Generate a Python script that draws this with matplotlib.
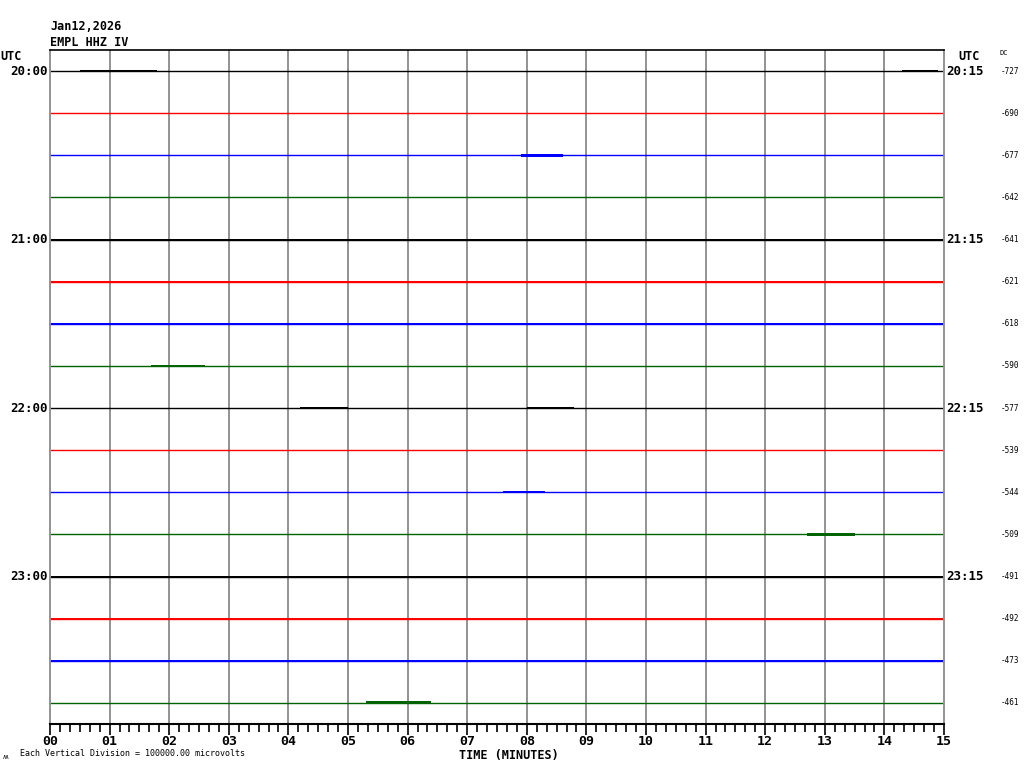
import matplotlib
matplotlib.use("Agg")
import matplotlib.pyplot as plt
import matplotlib.transforms as mtransforms
import numpy as np

# helicorder for EMPL HHZ IV, 16 lines of 15 minutes each
date_label = "Jan12,2026"
station = "EMPL HHZ IV"
row_colors = ["black", "red", "blue", "#006400"] * 4
left_hours = {0: "20:00", 4: "21:00", 8: "22:00", 12: "23:00"}
right_hours = {0: "20:15", 4: "21:15", 8: "22:15", 12: "23:15"}
dc_values = [-727, -690, -677, -642, -641, -621, -618, -590,
             -577, -539, -544, -509, -491, -492, -473, -461]
# background noise half-width per row (in vertical divisions)
noise = [0.004, 0.004, 0.008, 0.012, 0.018, 0.018, 0.010, 0.004,
         0.004, 0.002, 0.008, 0.012, 0.018, 0.018, 0.008, 0.004]
# small events: row, start minute, end minute, half-width
events = [(0, 0.5, 1.8, 0.022), (0, 14.3, 14.9, 0.022),
          (2, 7.9, 8.6, 0.032), (6, 7.0, 7.6, 0.028),
          (7, 1.7, 2.6, 0.032), (8, 4.2, 5.0, 0.028),
          (8, 8.0, 8.8, 0.032), (10, 7.6, 8.3, 0.028),
          (11, 12.7, 13.5, 0.028), (15, 5.3, 6.4, 0.036)]
minutes = list(range(16))
tick_labels = ["%02d" % m for m in minutes]

mono = "DejaVu Sans Mono"

fig = plt.figure(figsize=(10.24, 7.68), dpi=100)
ax = fig.add_axes([50 / 1024, 44 / 768, 894 / 1024, 674 / 768])
ax.set_xlim(0, 15)
ax.set_ylim(15.5, -0.5)

for m in minutes[1:-1]:
    ax.axvline(m, color="#939393", lw=1.4, zorder=1)

for i, c in enumerate(row_colors):
    ax.plot([0, 15], [i, i], color=c, lw=1.0, zorder=2)
    ax.fill_between([0, 15], i - noise[i], i + noise[i], color=c, lw=0, zorder=2)

for row, t0, t1, amp in events:
    ax.fill_between([t0, t1], row - amp, row + amp, color=row_colors[row],
                    lw=0, zorder=3)

for s in ["left", "right"]:
    ax.spines[s].set_color("#939393")
    ax.spines[s].set_linewidth(1.4)
ax.spines["top"].set_linewidth(1.2)
ax.spines["bottom"].set_linewidth(1.5)

ax.set_yticks([])
ax.set_xticks(minutes)
ax.set_xticklabels(tick_labels, fontfamily=mono, fontweight="bold", fontsize=9.5)
ax.set_xticks(np.arange(0, 15.01, 1 / 6), minor=True)
ax.tick_params(axis="x", which="both", direction="out", length=8, width=1.2, pad=0)
ax.tick_params(axis="x", which="minor", length=6)

trans_l = mtransforms.blended_transform_factory(ax.transAxes, ax.transData)
for row, lab in left_hours.items():
    ax.text(-0.002, row, lab, transform=trans_l, ha="right", va="center",
            fontfamily=mono, fontweight="bold", fontsize=9)
for row, lab in right_hours.items():
    ax.text(1.003, row, lab, transform=trans_l, ha="left", va="center",
            fontfamily=mono, fontweight="bold", fontsize=9)
for row, v in enumerate(dc_values):
    ax.text(951 / 894, row, str(v), transform=trans_l, ha="left", va="center",
            fontfamily=mono, fontsize=5.5)

fig.text(50 / 1024, 1 - 26 / 768, date_label, ha="left", va="center",
         fontfamily=mono, fontweight="bold", fontsize=8.5)
fig.text(50 / 1024, 1 - 42 / 768, station, ha="left", va="center",
         fontfamily=mono, fontweight="bold", fontsize=8.5)
fig.text(0 / 1024, 1 - 57 / 768, "UTC", ha="left", va="center",
         fontfamily=mono, fontweight="bold", fontsize=8.5)
fig.text(958 / 1024, 1 - 57 / 768, "UTC", ha="left", va="center",
         fontfamily=mono, fontweight="bold", fontsize=8.5)
fig.text(999 / 1024, 1 - 53 / 768, "DC", ha="left", va="center",
         fontfamily=mono, fontsize=5)
fig.text(509 / 1024, 1 - 755 / 768, "TIME (MINUTES)", ha="center", va="center",
         fontfamily=mono, fontweight="bold", fontsize=8.5)
fig.text(20 / 1024, 1 - 754 / 768, "Each Vertical Division = 100000.00 microvolts",
         ha="left", va="center", fontfamily=mono, fontsize=6)
fig.text(3 / 1024, 1 - 757 / 768, "\u028d", ha="left", va="center", fontsize=5)

fig.savefig("out.png", dpi=100)
